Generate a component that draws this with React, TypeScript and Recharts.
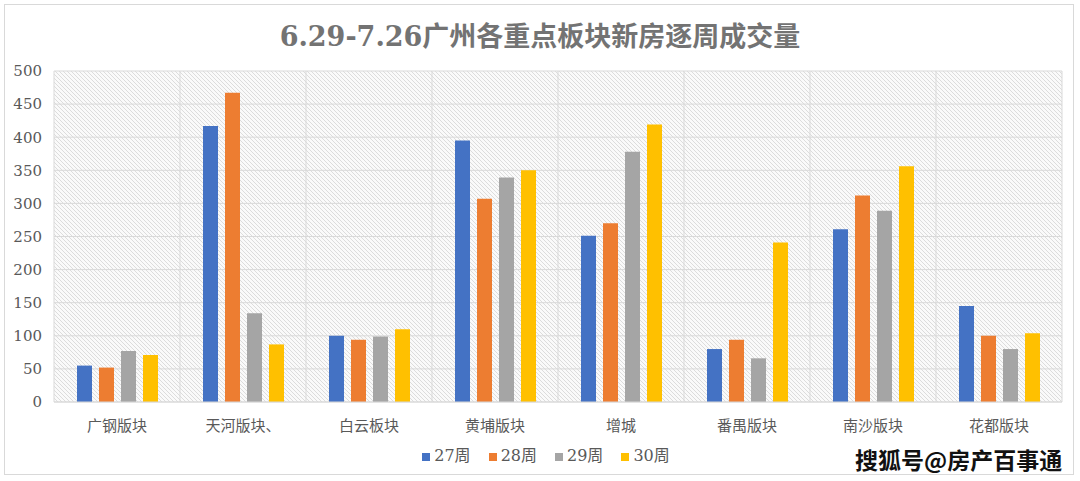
import React from "react";
import {
  BarChart,
  Bar,
  XAxis,
  YAxis,
  CartesianGrid,
  Legend,
} from "recharts";

const districts = ["广钢版块", "天河版块、", "白云板块", "黄埔版块", "增城", "番禺版块", "南沙版块", "花都版块"];
const week27 = [55, 417, 100, 395, 251, 80, 261, 145];
const week28 = [52, 467, 94, 307, 270, 94, 312, 100];
const week29 = [77, 134, 99, 339, 378, 66, 289, 80];
const week30 = [71, 87, 110, 350, 419, 241, 356, 104];
const yTicks = [0, 50, 100, 150, 200, 250, 300, 350, 400, 450, 500];

const data = districts.map((name, i) => ({
  name,
  w27: week27[i],
  w28: week28[i],
  w29: week29[i],
  w30: week30[i],
}));

const font = '"DejaVu Serif", "Noto Sans CJK SC", serif';
const textColor = "#595959";

const App: React.FC = () => {
  return (
    <div
      style={{
        position: "absolute",
        left: 0,
        top: 0,
        width: 1080,
        height: 481,
        background: "#fff",
        fontFamily: font,
      }}
    >
      <div
        style={{
          position: "absolute",
          left: 4,
          top: 4,
          width: 1068,
          height: 469,
          border: "1px solid #d9d9d9",
        }}
      />
      <div
        style={{
          position: "absolute",
          left: 0,
          top: 17,
          width: 1080,
          textAlign: "center",
          fontSize: 27,
          fontWeight: "bold",
          color: "#737373",
          lineHeight: "40px",
        }}
      >
        6.29-7.26广州各重点板块新房逐周成交量
      </div>
      <div style={{ position: "absolute", left: 0, top: 0 }}>
        <BarChart
          width={1080}
          height={481}
          data={data}
          margin={{ top: 71, right: 18, left: 0, bottom: 15 }}
          barSize={15}
          barGap={7}
        >
          <defs>
            <pattern id="hatch" patternUnits="userSpaceOnUse" width="4" height="4">
              <rect width="4" height="4" fill="#fafafa" />
              <path d="M-1,-1 L5,5 M3,-1 L5,1 M-1,3 L1,5" stroke="#dcdcdc" strokeWidth="1" />
            </pattern>
          </defs>
          <CartesianGrid
            stroke="#d9d9d9"
            fill="url(#hatch)"
            fillOpacity={1}
            verticalCoordinatesGenerator={({ offset }: any) =>
              districts.map((_, i) => offset.left + (i * offset.width) / districts.length).concat(offset.left + offset.width)
            }
          />
          <XAxis
            dataKey="name"
            height={31}
            axisLine={{ stroke: "#d9d9d9" }}
            tickLine={false}
            tick={{ fill: textColor, fontSize: 15, fontFamily: font }}
            tickMargin={12}
          />
          <YAxis
            width={54}
            domain={[0, 500]}
            ticks={yTicks}
            axisLine={false}
            tickLine={false}
            tick={{ fill: textColor, fontSize: 15, fontFamily: font }}
            tickMargin={6}
          />
          <Legend
            iconType="square"
            iconSize={8}
            wrapperStyle={{ fontSize: 16, fontFamily: font, color: textColor, paddingTop: 9, paddingLeft: 24 }}
            formatter={(v: string) => <span style={{ color: textColor, marginRight: 8 }}>{v}</span>}
          />
          <Bar dataKey="w27" name="27周" fill="#4472C4" isAnimationActive={false} />
          <Bar dataKey="w28" name="28周" fill="#ED7D31" isAnimationActive={false} />
          <Bar dataKey="w29" name="29周" fill="#A5A5A5" isAnimationActive={false} />
          <Bar dataKey="w30" name="30周" fill="#FFC000" isAnimationActive={false} />
        </BarChart>
      </div>
      <div
        style={{
          position: "absolute",
          left: 855,
          top: 443,
          fontSize: 23,
          fontFamily: '"Noto Sans CJK SC", sans-serif',
          fontWeight: "bold",
          color: "#111",
          textShadow: "0 0 2px #fff, 0 0 2px #fff",
          lineHeight: "32px",
        }}
      >
        搜狐号@房产百事通
      </div>
    </div>
  );
};

export default App;
